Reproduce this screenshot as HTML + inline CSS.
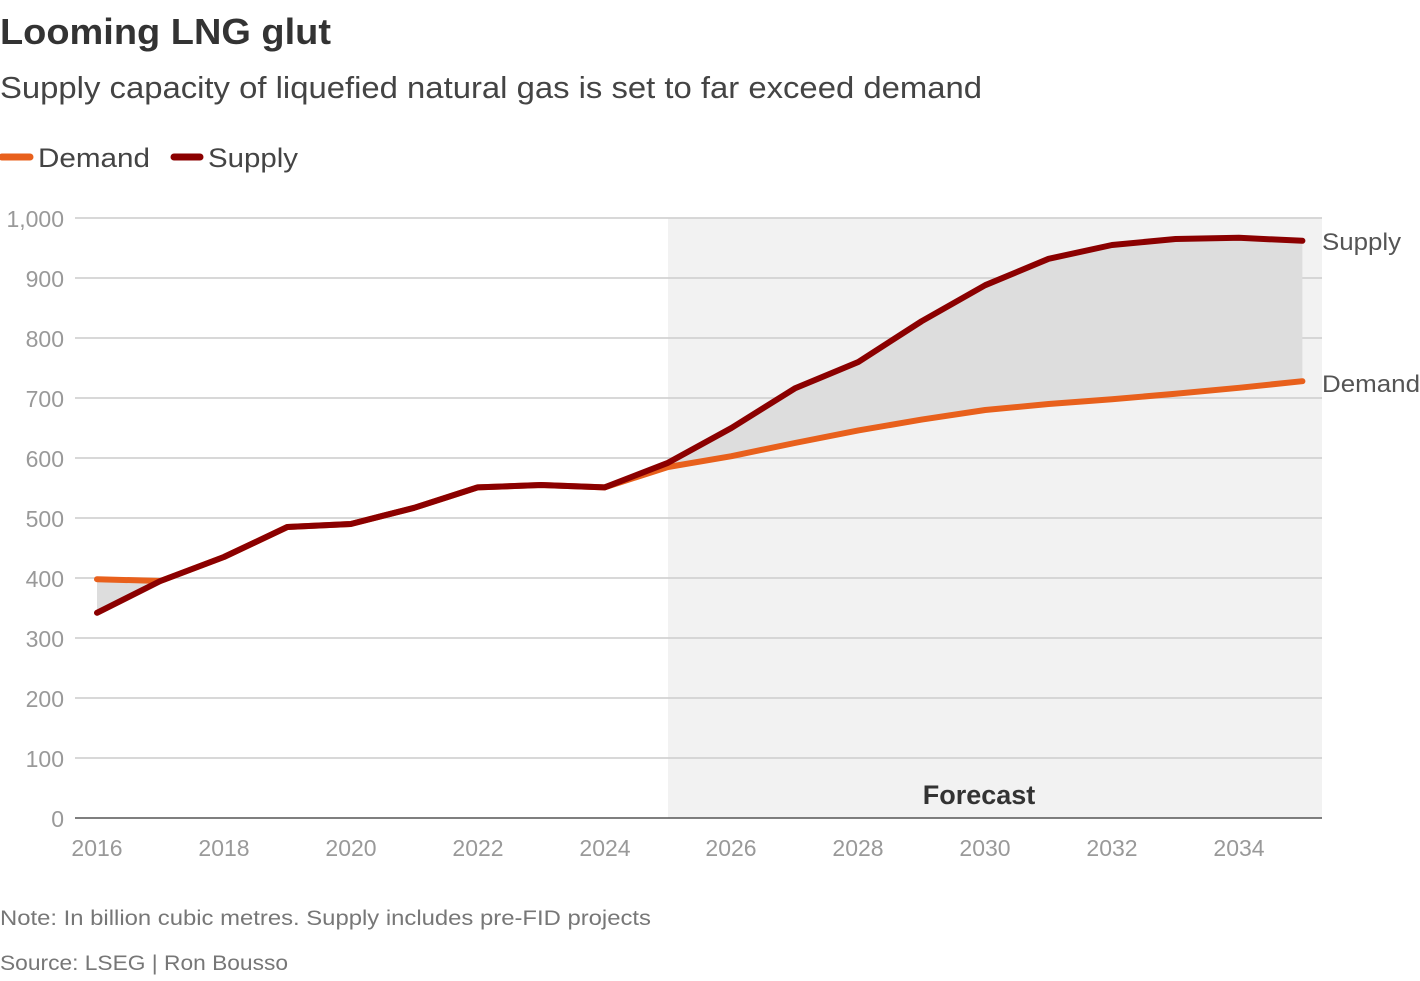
<!DOCTYPE html>
<html><head><meta charset="utf-8"><style>
body{margin:0;background:#fff;width:1420px;height:976px;overflow:hidden;font-family:"Liberation Sans",sans-serif}
</style></head><body>
<svg width="1420" height="976" xmlns="http://www.w3.org/2000/svg" font-family="Liberation Sans, sans-serif">
<text x="0" y="44" font-size="36" font-weight="bold" fill="#333" textLength="331" lengthAdjust="spacingAndGlyphs">Looming LNG glut</text>
<text x="0" y="98" font-size="31" fill="#444" textLength="982" lengthAdjust="spacingAndGlyphs">Supply capacity of liquefied natural gas is set to far exceed demand</text>
<line x1="2" y1="157" x2="30" y2="157" stroke="#e8601c" stroke-width="7" stroke-linecap="round"/>
<text x="38" y="167" font-size="27" fill="#444" textLength="112" lengthAdjust="spacingAndGlyphs">Demand</text>
<line x1="174" y1="157" x2="200" y2="157" stroke="#8b0000" stroke-width="7" stroke-linecap="round"/>
<text x="208" y="167" font-size="27" fill="#444" textLength="90" lengthAdjust="spacingAndGlyphs">Supply</text>
<rect x="668" y="218" width="654" height="600" fill="#f2f2f2"/>
<g stroke="#ccc" stroke-width="1.5">
<line x1="75" y1="218" x2="1322" y2="218"/><line x1="75" y1="278" x2="1322" y2="278"/>
<line x1="75" y1="338" x2="1322" y2="338"/><line x1="75" y1="398" x2="1322" y2="398"/>
<line x1="75" y1="458" x2="1322" y2="458"/><line x1="75" y1="518" x2="1322" y2="518"/>
<line x1="75" y1="578" x2="1322" y2="578"/><line x1="75" y1="638" x2="1322" y2="638"/>
<line x1="75" y1="698" x2="1322" y2="698"/><line x1="75" y1="758" x2="1322" y2="758"/>
</g>
<line x1="75" y1="818" x2="1322" y2="818" stroke="#555" stroke-width="1.5"/>
<g font-size="23" fill="#999" text-anchor="end">
<text x="64" y="227">1,000</text><text x="64" y="287">900</text><text x="64" y="347">800</text>
<text x="64" y="407">700</text><text x="64" y="467">600</text><text x="64" y="527">500</text>
<text x="64" y="587">400</text><text x="64" y="647">300</text><text x="64" y="707">200</text>
<text x="64" y="767">100</text><text x="64" y="827">0</text>
</g>
<g font-size="23" fill="#999" text-anchor="middle">
<text x="97" y="856">2016</text><text x="224" y="856">2018</text><text x="351" y="856">2020</text>
<text x="478" y="856">2022</text><text x="605" y="856">2024</text><text x="731" y="856">2026</text>
<text x="858" y="856">2028</text><text x="985" y="856">2030</text><text x="1112" y="856">2032</text>
<text x="1239" y="856">2034</text>
</g>
<text x="979" y="804" font-size="27" font-weight="bold" fill="#333" text-anchor="middle">Forecast</text>
<polygon fill="#ddd" points="97,612.8 160.4,581 160.4,581 97,579.2"/>
<polygon fill="#ddd" points="604.5,487.4 668,462.8 731.4,428 794.8,388.4 858.3,362 921.7,321.2 985.2,285.2 1048.6,258.8 1112,245 1175.5,239 1238.9,237.8 1302.4,240.8 1302.4,381.2 1238.9,387.8 1175.5,393.8 1112,399.2 1048.6,404 985.2,410 921.7,419.6 858.3,430.4 794.8,443 731.4,456.2 668,467"/>
<polyline fill="none" stroke="#e8601c" stroke-width="6" stroke-linejoin="round" stroke-linecap="round" points="97,579.2 160.4,581 223.9,557 287.3,527 350.8,524 414.2,507.8 477.6,487.4 541.1,485 604.5,487.4 668,467 731.4,456.2 794.8,443 858.3,430.4 921.7,419.6 985.2,410 1048.6,404 1112,399.2 1175.5,393.8 1238.9,387.8 1302.4,381.2"/>
<polyline fill="none" stroke="#8b0000" stroke-width="6" stroke-linejoin="round" stroke-linecap="round" points="97,612.8 160.4,581 223.9,557 287.3,527 350.8,524 414.2,507.8 477.6,487.4 541.1,485 604.5,487.4 668,462.8 731.4,428 794.8,388.4 858.3,362 921.7,321.2 985.2,285.2 1048.6,258.8 1112,245 1175.5,239 1238.9,237.8 1302.4,240.8"/>
<text x="1322" y="250" font-size="24" fill="#555" textLength="79" lengthAdjust="spacingAndGlyphs">Supply</text>
<text x="1322" y="392" font-size="24" fill="#555" textLength="98" lengthAdjust="spacingAndGlyphs">Demand</text>
<text x="0" y="925" font-size="21" fill="#777" textLength="651" lengthAdjust="spacingAndGlyphs">Note: In billion cubic metres. Supply includes pre-FID projects</text>
<text x="0" y="970" font-size="21" fill="#777" textLength="288" lengthAdjust="spacingAndGlyphs">Source: LSEG | Ron Bousso</text>
</svg>
</body></html>
